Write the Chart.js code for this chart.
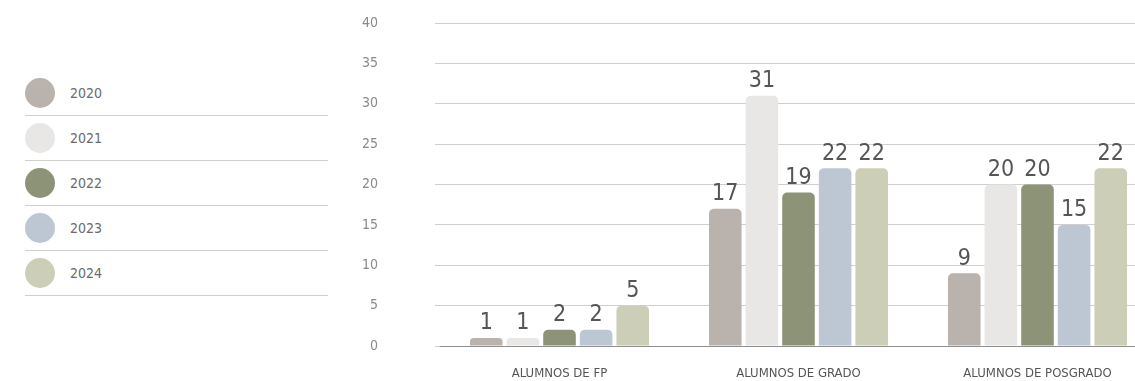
<!DOCTYPE html>
<html>
<head>
<meta charset="utf-8">
<script src="https://cdn.jsdelivr.net/npm/chart.js@4/dist/chart.umd.min.js"></script>
<style>
  html, body { margin: 0; padding: 0; background: #fff; overflow: hidden; width: 1135px; height: 381px; }
  #legend { position: absolute; left: 25px; top: 71px; width: 303px; font-family: 'DejaVu Sans Condensed', 'Liberation Sans Narrow', sans-serif; }
  .item { height: 44px; border-bottom: 1px solid #cfcfcf; display: flex; align-items: center; }
  .dot { width: 30px; height: 30px; border-radius: 50%; margin-right: 15px; }
  .lbl { font-size: 14px; color: #6a6a6a; }
  #chart { position: absolute; left: 340px; top: 0; }
</style>
</head>
<body>
<div id="legend"></div>
<canvas id="chart" width="817" height="381"></canvas>
<script>
// categorías y series
const categories = ['ALUMNOS DE FP', 'ALUMNOS DE GRADO', 'ALUMNOS DE POSGRADO'];
const years = ['2020', '2021', '2022', '2023', '2024'];
const colors = ['#bab3ad', '#e8e7e5', '#8c9377', '#bcc7d3', '#cdceb8'];
const values2020 = [1, 17, 9];
const values2021 = [1, 31, 20];
const values2022 = [2, 19, 20];
const values2023 = [2, 22, 15];
const values2024 = [5, 22, 22];
const yTicks = [0, 5, 10, 15, 20, 25, 30, 35, 40];

const seriesValues = [values2020, values2021, values2022, values2023, values2024];

// leyenda en HTML
const legend = document.getElementById('legend');
legend.innerHTML = years.map((y, i) => `
  <div class="item"><div class="dot" style="background:${colors[i]}"></div><span class="lbl">${y}</span></div>
`).join('');

const FONT = "'DejaVu Sans Condensed', 'Liberation Sans Narrow', sans-serif";

// etiquetas de valor sobre las barras
const valueLabels = {
  id: 'valueLabels',
  afterDatasetsDraw(chart) {
    const ctx = chart.ctx;
    ctx.save();
    ctx.font = `23px ${FONT}`;
    ctx.fillStyle = '#555';
    ctx.textAlign = 'center';
    ctx.textBaseline = 'bottom';
    chart.data.datasets.forEach((ds, di) => {
      chart.getDatasetMeta(di).data.forEach((bar, i) => {
        ctx.fillText(ds.data[i], bar.x, bar.y - 3);
      });
    });
    ctx.restore();
  }
};

new Chart(document.getElementById('chart'), {
  type: 'bar',
  data: {
    labels: categories,
    datasets: years.map((y, i) => ({
      label: y,
      data: seriesValues[i],
      backgroundColor: colors[i],
      borderRadius: 5,
      barPercentage: 0.89,
      categoryPercentage: 0.766
    }))
  },
  options: {
    responsive: false,
    animation: false,
    layout: { padding: { top: 23, right: 0, left: 0, bottom: 0 } },
    plugins: { legend: { display: false }, tooltip: { enabled: false } },
    scales: {
      x: {
        grid: { display: false, drawTicks: false },
        border: { color: '#8f8f8f', width: 1 },
        ticks: { color: '#555', font: { family: FONT, size: 13 }, padding: 20 },
        afterFit(scale) { scale.height = 35; }
      },
      y: {
        min: 0, max: 40,
        afterBuildTicks(scale) { scale.ticks = yTicks.map(v => ({ value: v })); },
        grid: { color: '#cfcfcf', drawTicks: true, tickLength: 5, tickColor: '#cfcfcf' },
        border: { display: false },
        ticks: { color: '#8a8a8a', font: { family: FONT, size: 14 }, padding: 57 },
        afterFit(scale) {
          // el padding de las etiquetas no debe empujar el área vertical
          scale.width = 100;
          scale.paddingTop = 0;
          scale.paddingBottom = 0;
        }
      }
    }
  },
  plugins: [valueLabels]
});
</script>
</body>
</html>
